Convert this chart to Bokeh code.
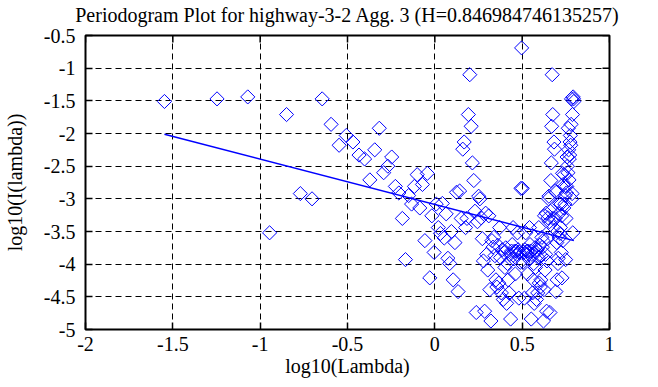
import numpy as np
from bokeh.plotting import figure
from bokeh.models import Range1d, FixedTicker, LinearAxis
from bokeh.embed import file_html
from bokeh.resources import INLINE

title_text = "Periodogram Plot for highway-3-2 Agg. 3 (H=0.846984746135257)"
x_label = "log10(Lambda)"
y_label = "log10(I(lambda))"
x_ticks = [-2.0, -1.5, -1.0, -0.5, 0.0, 0.5, 1.0]
x_tick_labels = ["-2", "-1.5", "-1", "-0.5", "0", "0.5", "1"]
y_ticks = [-5.0, -4.5, -4.0, -3.5, -3.0, -2.5, -2.0, -1.5, -1.0, -0.5]
y_tick_labels = ["-5", "-4.5", "-4", "-3.5", "-3", "-2.5", "-2", "-1.5", "-1", "-0.5"]

# log10(lambda), low-frequency half
x_low = [-1.548, -1.247, -1.071, -0.946, -0.849, -0.770, -0.703, -0.645, -0.594, -0.548,
         -0.507, -0.469, -0.434, -0.402, -0.372, -0.344, -0.318, -0.293, -0.269, -0.247,
         -0.226, -0.206, -0.186, -0.168, -0.150, -0.133, -0.117, -0.101, -0.086, -0.071,
         -0.057, -0.043, -0.029, -0.017, -0.004, 0.008, 0.020, 0.032, 0.043, 0.054,
         0.065, 0.075, 0.085, 0.095, 0.105, 0.115, 0.124, 0.133, 0.142, 0.151,
         0.160, 0.168, 0.176, 0.184, 0.192, 0.200, 0.208, 0.215, 0.223, 0.230,
         0.237, 0.244, 0.251, 0.258, 0.265, 0.272, 0.278, 0.285, 0.291, 0.297,
         0.303, 0.309, 0.315, 0.321, 0.327, 0.333, 0.338, 0.344, 0.350, 0.355,
         0.360, 0.366, 0.371, 0.376, 0.381, 0.386, 0.392, 0.396, 0.401, 0.406,
         0.411, 0.416, 0.420, 0.425, 0.430, 0.434, 0.439, 0.443, 0.448, 0.452,
         0.456, 0.461, 0.465, 0.469, 0.473, 0.477, 0.481, 0.485, 0.489, 0.493,
         0.497]
# log10(I(lambda)), low-frequency half
y_low = [-1.51, -1.47, -1.44, -3.52, -1.71, -2.92, -3.00, -1.47, -1.86, -2.18,
         -2.03, -2.13, -2.33, -2.39, -2.71, -2.25, -1.92, -2.60, -2.50, -2.36,
         -2.81, -2.91, -3.30, -3.93, -2.95, -3.08, -2.81, -2.63, -3.14, -2.78,
         -3.64, -2.61, -4.21, -3.26, -3.82, -3.08, -3.44, -3.53, -3.07, -3.60,
         -3.23, -3.91, -3.99, -3.50, -4.24, -3.67, -2.90, -4.42, -2.88, -3.30,
         -2.24, -2.13, -3.44, -3.30, -1.71, -1.10, -1.89, -2.45, -2.72, -3.19,
         -4.74, -3.35, -2.96, -3.00, -3.29, -3.61, -3.95, -4.72, -3.22, -3.85,
         -4.09, -3.26, -4.39, -4.87, -3.64, -3.74, -3.59, -3.87, -4.24, -4.35,
         -3.71, -4.29, -3.44, -3.90, -4.44, -3.78, -4.54, -3.82, -4.05, -3.75,
         -4.60, -3.99, -4.24, -4.44, -3.85, -4.84, -3.80, -3.70, -3.44, -3.92,
         -3.80, -4.15, -3.80, -3.85, -3.52, -3.78, -4.52, -3.82, -3.97, -2.84,
         -0.69]
# log10(lambda), high-frequency half
x_high = [0.501, 0.505, 0.509, 0.513, 0.516, 0.520, 0.524, 0.528, 0.531, 0.535,
          0.538, 0.542, 0.545, 0.549, 0.552, 0.556, 0.559, 0.563, 0.566, 0.569,
          0.573, 0.576, 0.579, 0.582, 0.586, 0.589, 0.592, 0.595, 0.598, 0.601,
          0.604, 0.607, 0.610, 0.613, 0.616, 0.619, 0.622, 0.625, 0.628, 0.631,
          0.634, 0.637, 0.640, 0.642, 0.645, 0.648, 0.651, 0.653, 0.656, 0.659,
          0.662, 0.664, 0.667, 0.669, 0.672, 0.675, 0.677, 0.680, 0.682, 0.685,
          0.688, 0.690, 0.693, 0.695, 0.698, 0.700, 0.702, 0.705, 0.707, 0.710,
          0.712, 0.714, 0.717, 0.719, 0.722, 0.724, 0.726, 0.728, 0.731, 0.733,
          0.735, 0.738, 0.740, 0.742, 0.744, 0.746, 0.749, 0.751, 0.753, 0.755,
          0.757, 0.759, 0.762, 0.764, 0.766, 0.768, 0.770, 0.772, 0.774, 0.776,
          0.778, 0.780, 0.782, 0.784, 0.786, 0.788, 0.790, 0.792, 0.794, 0.796]
# log10(I(lambda)), high-frequency half
y_high = [-2.84, -3.97, -3.82, -4.52, -3.78, -3.52, -3.85, -3.80, -4.15, -3.80,
          -3.92, -3.44, -3.70, -3.80, -4.84, -3.85, -4.44, -4.24, -3.99, -4.60,
          -3.75, -4.05, -3.82, -4.54, -3.78, -4.44, -3.90, -3.44, -4.29, -3.71,
          -4.35, -4.24, -3.87, -3.59, -3.74, -3.64, -4.87, -4.39, -3.26, -4.09,
          -3.85, -3.22, -4.72, -3.95, -3.61, -3.29, -3.00, -2.96, -3.35, -4.74,
          -3.19, -2.72, -2.45, -1.89, -1.10, -1.71, -3.30, -3.44, -2.13, -2.24,
          -3.30, -2.88, -4.42, -2.90, -3.67, -4.24, -3.50, -3.99, -3.91, -3.23,
          -3.60, -3.07, -3.53, -3.44, -3.08, -3.82, -3.26, -4.21, -2.61, -3.64,
          -2.78, -3.14, -2.63, -2.81, -3.08, -2.95, -3.93, -3.30, -2.91, -2.81,
          -2.36, -2.50, -2.60, -1.92, -2.25, -2.71, -2.39, -2.33, -2.13, -2.03,
          -2.18, -1.86, -1.47, -3.00, -2.92, -1.71, -3.52, -1.44, -1.47, -1.51]

# fitted regression line end points
fit_x = [-1.548, 0.796]
fit_y = [-2.01, -3.64]

X_MIN, X_MAX = -2.0, 1.0
Y_MIN, Y_MAX = -5.0, -0.5

FONT = "Liberation Serif"
FS = "20px"
BLUE = "#0000ff"

p = figure(width=650, height=379, x_range=Range1d(X_MIN, X_MAX), y_range=Range1d(Y_MIN, Y_MAX),
           output_backend="svg", toolbar_location=None,
           min_border_left=82, min_border_right=41, min_border_top=32, min_border_bottom=49)
p.background_fill_color = "white"
p.border_fill_color = "white"
p.outline_line_color = "black"
p.outline_line_width = 2
p.outline_line_alpha = 1.0

xt = FixedTicker(ticks=x_ticks)
yt = FixedTicker(ticks=y_ticks)

def style_axis(ax, ticker, labels):
    ax.ticker = ticker
    ax.axis_line_color = None
    ax.major_tick_in = 7
    ax.major_tick_out = 0
    ax.major_tick_line_color = "black"
    ax.major_tick_line_width = 1.5
    ax.minor_tick_line_color = None
    ax.major_label_overrides = dict(zip(ticker.ticks, labels))
    ax.major_label_text_font = FONT
    ax.major_label_text_font_size = FS
    ax.major_label_text_color = "black"
    ax.major_label_text_line_height = 1.0
    ax.axis_label_text_font = FONT
    ax.axis_label_text_font_size = FS
    ax.axis_label_text_font_style = "normal"
    ax.axis_label_text_color = "black"
    ax.axis_label_text_line_height = 1.0

xax = p.xaxis[0]
yax = p.yaxis[0]
style_axis(xax, xt, x_tick_labels)
style_axis(yax, yt, y_tick_labels)
xax.axis_label = x_label
yax.axis_label = y_label
xax.major_label_standoff = 7
xax.axis_label_standoff = 1
yax.major_label_standoff = 10
yax.axis_label_standoff = 15

# title: the label of a tick-less axis above the frame
top_ax = LinearAxis(ticker=FixedTicker(ticks=[]), axis_label=title_text)
top_ax.axis_line_color = None
top_ax.major_tick_in = 0
top_ax.major_tick_out = 0
top_ax.minor_tick_line_color = None
top_ax.major_tick_line_color = None
top_ax.major_label_standoff = 0
top_ax.axis_label_standoff = 10
top_ax.axis_label_text_font = FONT
top_ax.axis_label_text_font_size = FS
top_ax.axis_label_text_font_style = "normal"
top_ax.axis_label_text_color = "black"
top_ax.axis_label_text_line_height = 1.0
p.add_layout(top_ax, "above")

p.xgrid.ticker = xt
p.ygrid.ticker = yt
for g in (p.xgrid[0], p.ygrid[0]):
    g.grid_line_color = "black"
    g.grid_line_width = 1
    g.grid_line_dash = "6 4"
    g.grid_line_alpha = 1.0

# mirrored inward ticks on the right and top borders (clipped to the frame)
p.scatter([X_MAX] * len(y_ticks), y_ticks, marker="dash", size=14,
          line_color="black", line_width=1.5)
p.scatter(x_ticks, [Y_MAX] * len(x_ticks), marker="dash", size=14, angle=np.pi / 2,
          line_color="black", line_width=1.5)

p.line(fit_x, fit_y, line_color=BLUE, line_width=1.5)
p.scatter(x_low, y_low, marker="square", size=10, angle=np.pi / 4,
          fill_color=None, line_color=BLUE, line_width=1)
p.scatter(x_high, y_high, marker="square", size=10, angle=np.pi / 4,
          fill_color=None, line_color=BLUE, line_width=1)

open("out.html", "w").write(file_html(p, INLINE))
